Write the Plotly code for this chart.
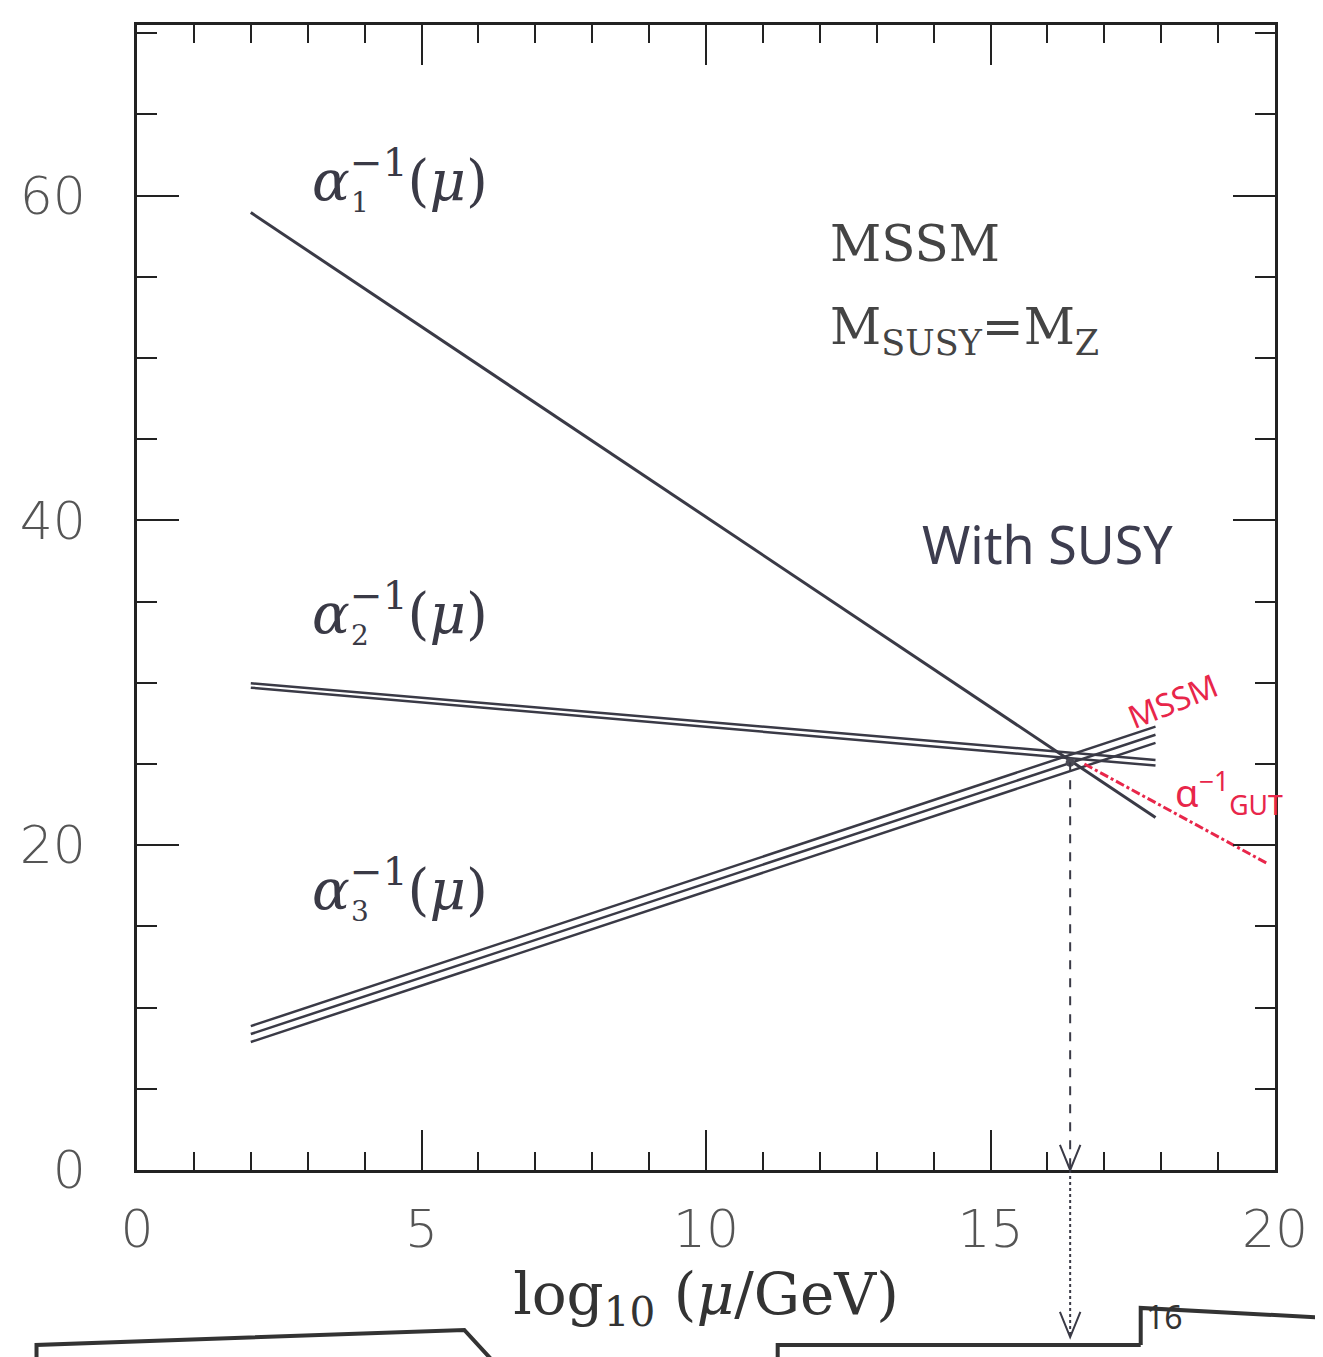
import plotly.graph_objects as go

# ---- data ----
x_ends = [2.0, 17.9]
alpha1 = [58.95, 21.7]
alpha2_upper = [29.97, 25.25]
alpha2_lower = [29.70, 24.90]
alpha3_upper = [8.86, 27.3]
alpha3_middle = [8.37, 26.8]
alpha3_lower = [7.88, 26.3]
gut_x = 16.4
gut_y = 25.1
red_x = [16.65, 19.85]
red_y = [25.0, 18.9]
x_ticks = [0, 5, 10, 15, 20]
y_ticks = [0, 20, 40, 60]
label_subs = ["1", "2", "3"]
label_y = [61.2, 34.5, 17.5]

INK = "#3a3a46"
RED = "#e8264a"
SERIF = "DejaVu Serif, Liberation Serif, serif"
TICKFONT = "DejaVu Sans, Liberation Sans, sans-serif"

fig = go.Figure()

def add_line(xs, ys, color=INK, width=3, dash="solid"):
    fig.add_trace(go.Scatter(x=xs, y=ys, mode="lines",
                             line=dict(color=color, width=width, dash=dash),
                             showlegend=False, hoverinfo="skip"))

add_line(x_ends, alpha1)
add_line(x_ends, alpha2_upper, width=2.5)
add_line(x_ends, alpha2_lower, width=2.5)
add_line(x_ends, alpha3_upper, width=2.5)
add_line(x_ends, alpha3_middle, width=2.5)
add_line(x_ends, alpha3_lower, width=2.5)
add_line(red_x, red_y, color=RED, width=3, dash="dashdot")
fig.add_trace(go.Scatter(x=[gut_x], y=[gut_y], mode="markers",
                         marker=dict(color="#4a4a55", size=9),
                         showlegend=False, hoverinfo="skip"))

# dashed vertical line from the unification point to the axis and below
fig.add_shape(type="line", xref="x", yref="y", x0=gut_x, x1=gut_x, y0=gut_y, y1=0,
              line=dict(color=INK, width=2, dash="dash"))
fig.add_shape(type="line", xref="x", yref="paper", x0=gut_x, x1=gut_x, y0=0, y1=-0.145,
              line=dict(color=INK, width=2, dash="dot"))
# V-shaped arrow heads
for yb in (0.0, -0.146):
    fig.add_shape(type="path", xref="x", yref="paper",
                  path=f"M {gut_x-0.18},{yb+0.022} L {gut_x},{yb} L {gut_x+0.18},{yb+0.022}",
                  line=dict(color=INK, width=2))

# handwritten boxes at the bottom (paper coords)
box_paths = [
    "M -0.0883,-0.17 L -0.0883,-0.1528 L 0.2876,-0.1397 L 0.3156,-0.17",
    "M 0.563,-0.17 L 0.563,-0.1528 L 0.882,-0.1528",
    "M 0.882,-0.1528 L 0.882,-0.1205 L 1.05,-0.1293",
]
for p in box_paths:
    fig.add_shape(type="path", xref="paper", yref="paper", path=p,
                  line=dict(color="#333", width=4))

for sub, yv in zip(label_subs, label_y):
    fig.add_annotation(x=3.04, y=yv, text="<i>α</i><sup>−1</sup>(<i>μ</i>)", showarrow=False,
                       xanchor="left",
                       font=dict(family=SERIF, size=56, color=INK))
    fig.add_annotation(x=3.04, y=yv, text=sub, showarrow=False,
                       xanchor="left", xshift=39, yshift=-26,
                       font=dict(family=SERIF, size=28, color=INK))

fig.add_annotation(x=12.15, y=57.0, text="MSSM", showarrow=False, xanchor="left",
                   font=dict(family=SERIF, size=50, color="#444"))
fig.add_annotation(x=12.15, y=51.7, text="M<sub>SUSY</sub>=M<sub>Z</sub>", showarrow=False,
                   xanchor="left", font=dict(family=SERIF, size=50, color="#444"))
fig.add_annotation(x=16.0, y=38.6, text="With SUSY", showarrow=False,
                   font=dict(family="Noto Sans, sans-serif", size=52, color="#3d3d4f"))
fig.add_annotation(x=18.2, y=28.9, text="MSSM", showarrow=False, textangle=-22,
                   font=dict(family="Noto Sans, sans-serif", size=32, color=RED))
fig.add_annotation(x=19.2, y=23.2, text="α<sup>−1</sup><sub>GUT</sub>", showarrow=False,
                   font=dict(family="Noto Sans, sans-serif", size=38, color=RED))
fig.add_annotation(xref="paper", yref="paper", x=0.921, y=-0.1485, text="16",
                   showarrow=False, font=dict(family="Noto Sans, sans-serif", size=32, color="#333"))

axis_common = dict(
    showgrid=False, zeroline=False, showline=True, linecolor="#222", linewidth=2.5,
    mirror="allticks", ticks="inside", tickcolor="#222", tickwidth=2,
    tickfont=dict(family=TICKFONT, size=52, color="#555", weight=200),
)
fig.update_xaxes(range=[0, 20], tickvals=x_ticks, ticklen=40,
                 minor=dict(dtick=1, ticklen=18, ticks="inside", tickcolor="#222", tickwidth=2),
                 ticklabelstandoff=12,
                 title=dict(text="log<sub>10</sub> (<i>μ</i>/GeV)", standoff=16,
                            font=dict(family=SERIF, size=58, color="#333")),
                 **axis_common)
fig.update_yaxes(range=[0, 70.5], tickvals=y_ticks, ticklen=42,
                 minor=dict(dtick=5, ticklen=20, ticks="inside", tickcolor="#222", tickwidth=2),
                 ticklabelstandoff=38,
                 **axis_common)

fig.update_layout(width=1323, height=1357,
                  margin=dict(l=119, r=56, t=17, b=195),
                  paper_bgcolor="white", plot_bgcolor="white",
                  showlegend=False)

fig.write_html("out.html")
